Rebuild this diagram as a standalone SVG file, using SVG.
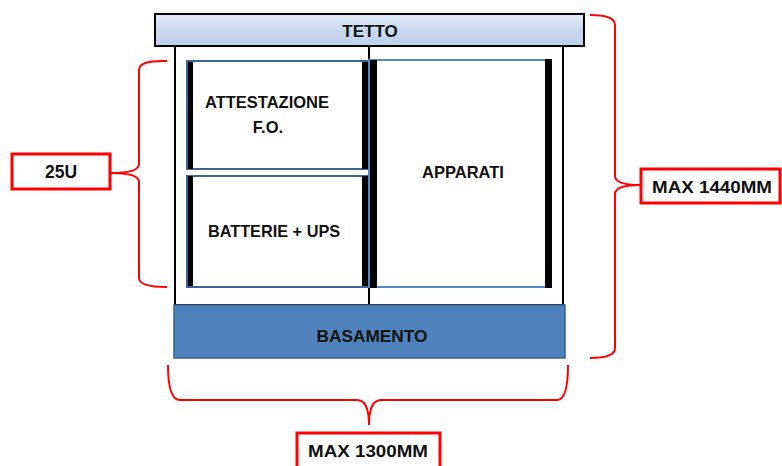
<svg xmlns="http://www.w3.org/2000/svg" width="782" height="466" viewBox="0 0 782 466">
<defs>
<linearGradient id="gTetto" x1="0" y1="0" x2="0" y2="1">
<stop offset="0" stop-color="#e3eaf6"/>
<stop offset="0.5" stop-color="#cbd9ef"/>
<stop offset="1" stop-color="#bfd0ea"/>
</linearGradient>
<style>
.lbl{font-family:"Liberation Sans",Arial,sans-serif;font-weight:bold;fill:#111;text-anchor:middle}
.red{fill:#fff;stroke:#ff0000;stroke-width:3}
.brace{fill:none;stroke:#ff0000;stroke-width:2}
.bar{fill:#000}
.boxL{fill:#fff;stroke:#3f6594;stroke-width:2}
.boxR{fill:none;stroke:#5585c2;stroke-width:2}
</style>
</defs>
<rect width="782" height="466" fill="#fff"/>
<g id="frame">
<rect x="175" y="46" width="388" height="259" fill="#fff" stroke="#000" stroke-width="2"/>
<line x1="369" y1="46" x2="369" y2="305" stroke="#000" stroke-width="2"/>
</g>
<g id="tetto">
<rect x="155" y="14" width="429" height="32" fill="url(#gTetto)" stroke="#000" stroke-width="2"/>
<text class="lbl" x="370" y="37" font-size="17">TETTO</text>
</g>
<g id="attestazione">
<rect class="boxL" x="187" y="61" width="181" height="108"/>
<rect class="bar" x="188" y="62" width="5" height="107"/>
<rect class="bar" x="362" y="62" width="6" height="107"/>
<text class="lbl" x="267" y="108" font-size="16.5">ATTESTAZIONE</text>
<text class="lbl" x="268" y="133" font-size="16.5">F.O.</text>
</g>
<g id="batterie">
<rect class="boxL" x="187" y="176" width="181" height="111"/>
<rect class="bar" x="188" y="176" width="5" height="110"/>
<rect class="bar" x="362" y="176" width="6" height="110"/>
<text class="lbl" x="274" y="237" font-size="16.3">BATTERIE + UPS</text>
</g>
<g id="apparati">
<rect class="boxR" x="369" y="60" width="178" height="227"/>
<rect class="bar" x="370" y="60" width="7" height="228"/>
<rect class="bar" x="545" y="59" width="7" height="229"/>
<line x1="369" y1="60" x2="369" y2="288" stroke="#5585c2" stroke-width="2"/>
<text class="lbl" x="463" y="178" font-size="16.5">APPARATI</text>
</g>
<g id="basamento">
<rect x="174" y="305" width="391" height="53" fill="#4f81bd" stroke="#3a5f8c" stroke-width="1.5"/>
<text class="lbl" x="372" y="342" font-size="17.3">BASAMENTO</text>
</g>
<g id="label-25u">
<rect class="red" x="12" y="154" width="98" height="35"/>
<text class="lbl" x="61" y="178" font-size="17.5">25U</text>
</g>
<g id="label-1440">
<rect class="red" x="641" y="169" width="139" height="34"/>
<text class="lbl" x="712" y="193" font-size="17" textLength="120" lengthAdjust="spacingAndGlyphs">MAX 1440MM</text>
</g>
<g id="label-1300">
<rect class="red" x="297" y="433" width="143" height="40"/>
<text class="lbl" x="368" y="457" font-size="17" textLength="120" lengthAdjust="spacingAndGlyphs">MAX 1300MM</text>
</g>
<g id="connectors">
<path class="brace" d="M167,61 Q139,60 139,70 L139,164 Q139,173 111,173 Q139,173 139,182 L139,278 Q139,287 167,287"/>
<path class="brace" d="M590,15 Q615,15 615,25 L615,176 Q615,185 640,185 Q615,185 615,194 L615,348 Q615,358 590,358"/>
<path class="brace" d="M168,365 Q168,400 180,400 L357,400 Q369,400 369,425 Q369,400 381,400 L557,400 Q568,400 568,365"/>
</g>
</svg>
